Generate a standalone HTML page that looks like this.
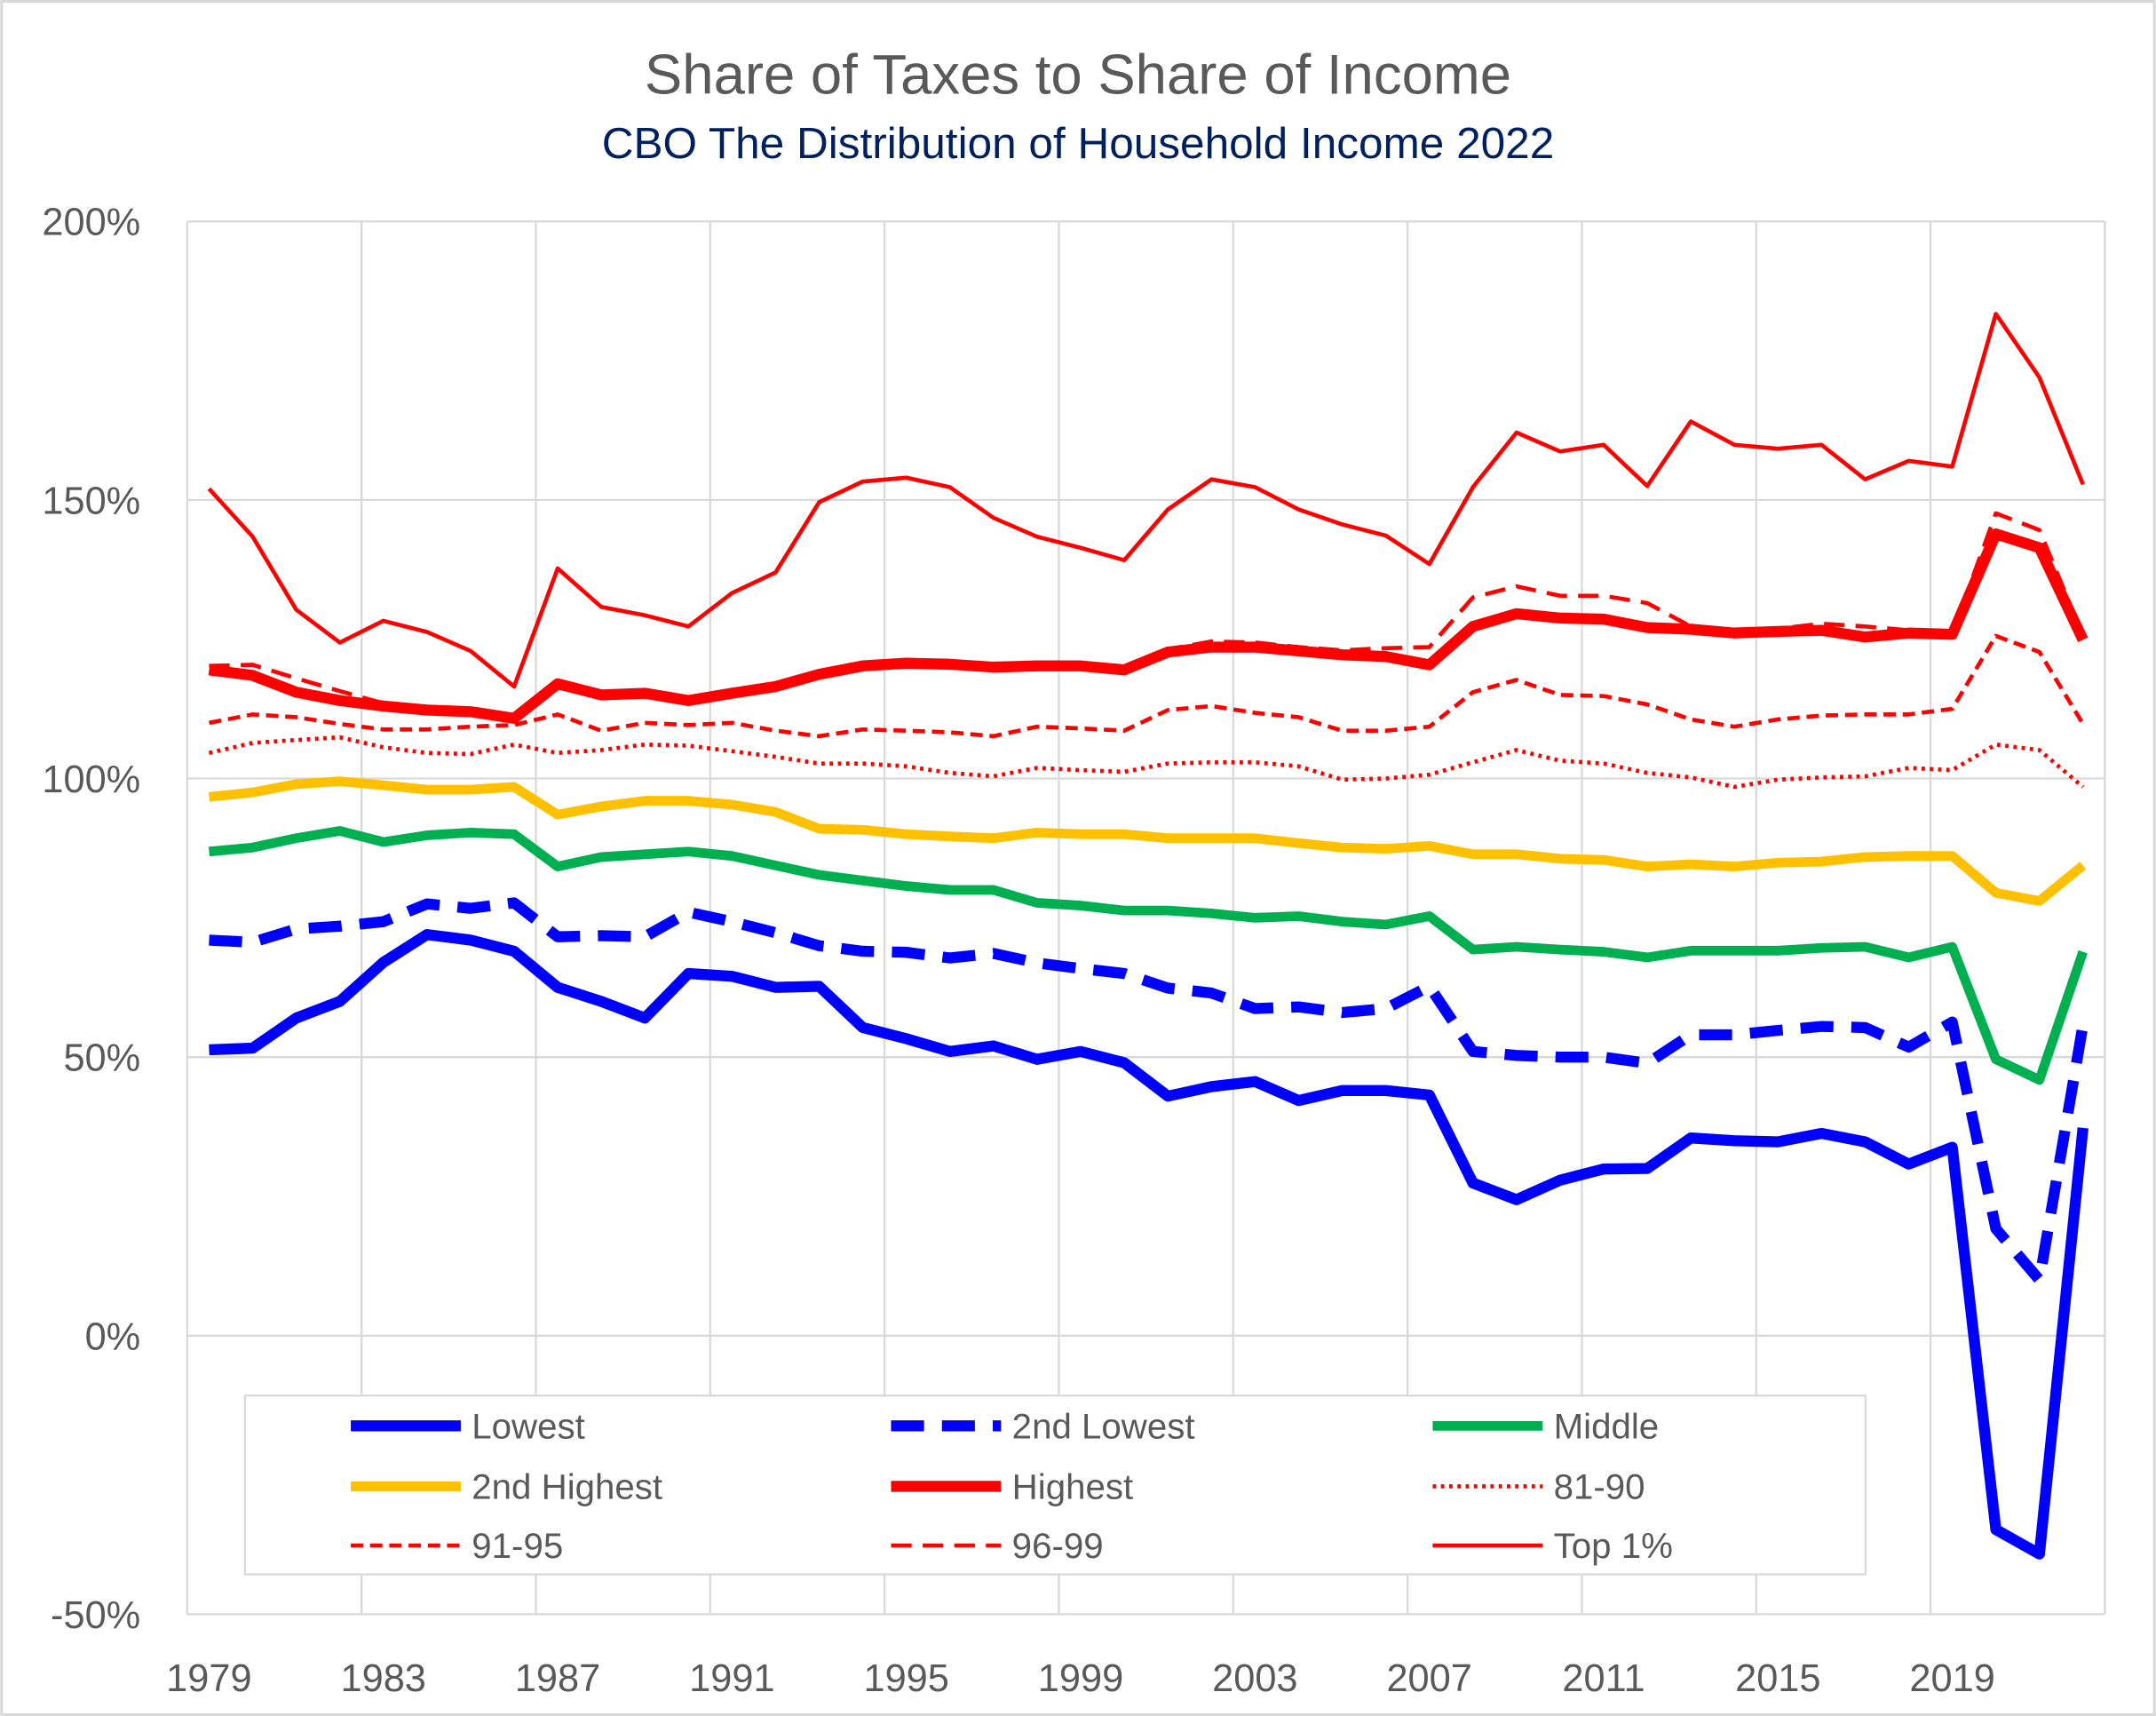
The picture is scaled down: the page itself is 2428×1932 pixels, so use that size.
<!DOCTYPE html>
<html><head><meta charset="utf-8">
<style>
html,body{margin:0;padding:0;background:#fff;}
svg{display:block;font-family:"Liberation Sans",sans-serif;}
</style></head>
<body>
<svg id="chart" width="2428" height="1932" viewBox="0 0 1568 1248" xmlns="http://www.w3.org/2000/svg">
<rect x="1" y="1" width="1566" height="1246" fill="#fff" stroke="#d9d9d9" stroke-width="2"/>
<text x="784" y="68" text-anchor="middle" font-size="41" fill="#595959">Share of Taxes to Share of Income</text>
<text x="784" y="115" text-anchor="middle" font-size="32" fill="#002060">CBO The Distribution of Household Income 2022</text>
<g id="grid"></g>
<g id="series"></g>
<g id="legend"></g>
</svg>
<script>
const years = [];
for (let y = 1979; y <= 2022; y++) years.push(y);
const yTicks = [-50, 0, 50, 100, 150, 200];
const xTickLabels = [1979,1983,1987,1991,1995,1999,2003,2007,2011,2015,2019];

const lowest = [51.3,51.6,57,60,67,72,71,69,62.5,60,57,65,64.5,62.5,62.7,55.3,53.3,51,52,49.6,51,49,43,44.7,45.6,42.2,44,44,43.2,27.4,24.4,27.9,29.9,30,35.5,35,34.8,36.3,34.8,30.8,33.8,-34.8,-39.2,37.3];
const secondLowest = [71,70.6,73,73.5,74.3,77.5,76.7,77.7,71.6,71.8,71.6,76,74.3,72.3,70,69,68.8,67.8,68.6,66.9,65.9,65,62.4,61.5,58.7,59,58,58.7,62.7,51,50.3,50,50,48.9,54,54,54.8,55.5,55.3,51.8,56.3,19.2,10,55.8];
const middle = [86.9,87.6,89.3,90.6,88.6,89.8,90.3,90,84.2,85.9,86.4,86.9,86.1,84.4,82.7,81.7,80.7,80,80,77.7,77.2,76.3,76.3,75.8,75,75.3,74.3,73.8,75.3,69.3,69.8,69.3,68.9,67.9,69.1,69.1,69.1,69.6,69.8,67.9,69.8,49.6,45.9,68.9];
const secondHighest = [96.7,97.5,99,99.5,98.8,98,98,98.5,93.5,95,96,96,95.3,94,91,90.8,90,89.6,89.3,90.3,90,90,89.3,89.3,89.3,88.4,87.6,87.4,87.9,86.4,86.4,85.6,85.4,84.2,84.6,84.2,84.9,85.1,85.9,86.1,86.1,79.5,78,84.4];
const highest = [119.5,118.5,115.5,114,113,112.3,112,110.8,117,115,115.3,114,115.3,116.5,118.7,120.2,120.7,120.5,120,120.2,120.2,119.5,122.7,123.6,123.6,122.9,122.2,121.9,120.4,127.3,129.6,128.8,128.6,127.1,126.8,126.1,126.4,126.6,125.4,126.1,125.9,143.9,141.4,124.9];
const p81_90 = [104.6,106.4,106.9,107.4,105.6,104.6,104.4,106.1,104.6,105.1,106.1,105.9,104.9,103.9,102.7,102.7,102.2,101,100.4,101.9,101.5,101.2,102.7,102.9,102.9,102.2,99.8,100,100.7,102.9,105.1,103.2,102.7,101,100.2,98.5,99.8,100.2,100.4,101.9,101.5,106.1,105.1,98.5];
const p91_95 = [110,111.5,111,109.8,108.8,108.8,109.3,109.6,111.5,108.6,110,109.6,110,108.6,107.6,108.8,108.6,108.3,107.6,109.3,109,108.6,112.3,113,111.8,111,108.6,108.6,109.3,115.5,117.7,115,114.8,113.3,110.6,109.3,110.6,111.3,111.5,111.5,112.5,125.6,122.7,109.8];
const p96_99 = [120.2,120.4,118,115.7,113.5,112.8,112.5,111.3,117.5,115.5,115.8,114.5,115.8,117,119.2,120.7,121.2,121,120.5,120.7,120.7,120,123.2,124.6,124.4,123.6,123,123.4,123.6,132.5,134.5,132.8,132.8,131.5,127.3,126.6,126.9,127.8,127.3,126.6,126,147.6,144.6,125.6];
const top1 = [152,143.4,130.3,124.4,128.3,126.3,122.9,116.5,137.7,130.8,129.3,127.3,133.3,137,149.6,153.3,154,152.3,146.8,143.4,141.4,139.2,148.3,153.7,152.3,148.3,145.6,143.6,138.5,152.3,162.1,158.7,159.9,152.5,164.1,159.9,159.2,159.9,153.7,157,156,183.4,172,152.8];

const NS = "http://www.w3.org/2000/svg";
const PL = 136, PR = 1531, PT = 161, PB = 1174;
const vMin = -50, vMax = 200;
const catW = (PR - PL) / years.length;
function xPos(i){ return PL + catW * (i + 0.5); }
function yPos(v){ return PB - (v - vMin) / (vMax - vMin) * (PB - PT); }
function mk(tag, attrs, parent){ const e = document.createElementNS(NS, tag); for (const k in attrs) e.setAttribute(k, attrs[k]); parent.appendChild(e); return e; }

const grid = document.getElementById('grid');
yTicks.forEach(t => {
  const l = mk('line', {x1:PL, x2:PR, y1:yPos(t), y2:yPos(t), stroke:'#d9d9d9', 'stroke-width':1.5}, grid);
  
  
  const tx = mk('text', {x:102, y:yPos(t)+10, 'text-anchor':'end', 'font-size':28, fill:'#595959'}, grid);
  tx.textContent = t + '%';
  
  
});
for (let i = 0; i <= years.length; i += 4) {
  const x = PL + catW * i;
  const l = mk('line', {x1:x, x2:x, y1:PT, y2:PB, stroke:'#d9d9d9', 'stroke-width':1.5}, grid);
  
  
}
mk('line', {x1:PR, x2:PR, y1:PT, y2:PB, stroke:'#d9d9d9', 'stroke-width':1.5}, grid);
xTickLabels.forEach(yr => {
  const i = years.indexOf(yr);
  const tx = mk('text', {x:xPos(i), y:1230, 'text-anchor':'middle', 'font-size':28, fill:'#595959'}, grid);
  tx.textContent = yr;
  
  
});

const seriesDefs = [
  {name:'Top 1%', data:top1, color:'#ff0000', w:3, dash:''},
  {name:'81-90', data:p81_90, color:'#ff0000', w:3, dash:'2.5,3.5'},
  {name:'91-95', data:p91_95, color:'#ff0000', w:3, dash:'9,5'},
  {name:'96-99', data:p96_99, color:'#ff0000', w:3, dash:'15,8'},
  {name:'Highest', data:highest, color:'#ff0000', w:8, dash:''},
  {name:'2nd Highest', data:secondHighest, color:'#ffc000', w:7, dash:''},
  {name:'Middle', data:middle, color:'#00b050', w:7, dash:''},
  {name:'2nd Lowest', data:secondLowest, color:'#0000ff', w:8, dash:'24,13'},
  {name:'Lowest', data:lowest, color:'#0000ff', w:8, dash:''}
];
const sg = document.getElementById('series');
seriesDefs.forEach(s => {
  const d = s.data.map((v,i) => (i ? 'L' : 'M') + xPos(i).toFixed(1) + ',' + yPos(v).toFixed(1)).join(' ');
  const p = mk('path', {d:d, fill:'none', stroke:s.color, 'stroke-width':s.w, 'stroke-linejoin':'round'}, sg);
  if (s.dash) p.setAttribute('stroke-dasharray', s.dash);
  
  
});

const lg = document.getElementById('legend');
const box = mk('rect', {x:178, y:1015, width:1179, height:130, fill:'#fff', stroke:'#d9d9d9', 'stroke-width':1.5}, lg);


const legendOrder = ['Lowest','2nd Lowest','Middle','2nd Highest','Highest','81-90','91-95','96-99','Top 1%'];
const colX = [255, 648, 1042];
const rowY = [1037, 1081, 1124];
legendOrder.forEach((n, k) => {
  const s = seriesDefs.find(d => d.name === n);
  const x = colX[k % 3], y = rowY[Math.floor(k / 3)];
  const l = mk('line', {x1:x, x2:x+80, y1:y, y2:y, stroke:s.color, 'stroke-width':s.w}, lg);
  if (s.dash) l.setAttribute('stroke-dasharray', s.dash);
  
  
  const t = mk('text', {x:x+88, y:y+9, 'font-size':26, fill:'#595959'}, lg);
  t.textContent = n;
  
  
});
</script>
</body></html>
